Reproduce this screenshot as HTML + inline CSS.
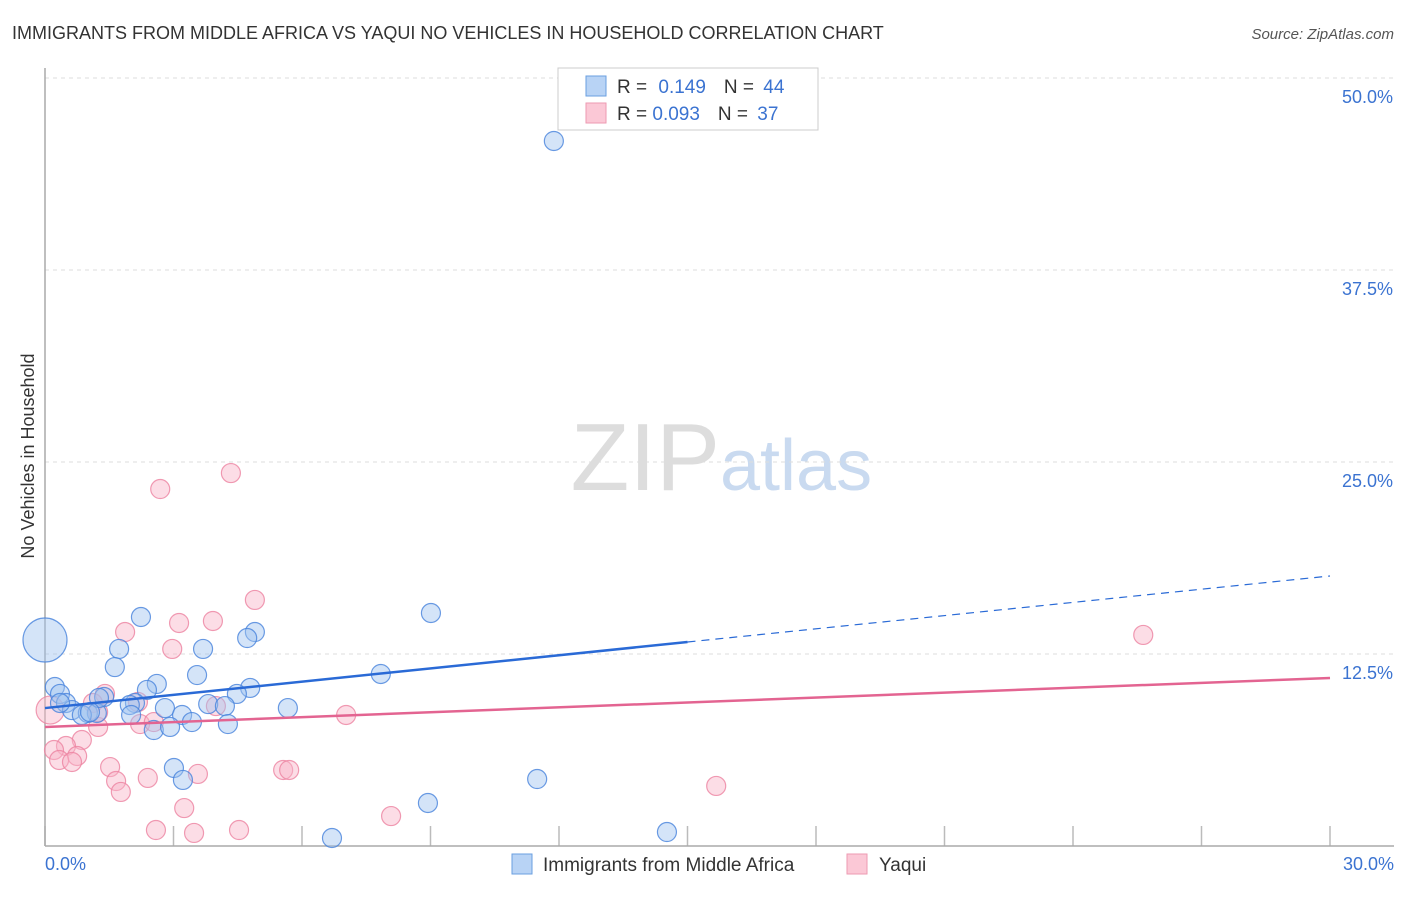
<!DOCTYPE html>
<html><head><meta charset="utf-8"><style>
body{margin:0;background:#fff;font-family:"Liberation Sans",sans-serif;}
svg text{font-family:"Liberation Sans",sans-serif;}
</style></head><body>
<svg id="c" width="1406" height="892">
<text x="12" y="39" font-size="18" fill="#333">IMMIGRANTS FROM MIDDLE AFRICA VS YAQUI NO VEHICLES IN HOUSEHOLD CORRELATION CHART</text>
<text x="1394" y="39" font-size="15" fill="#555" font-style="italic" text-anchor="end">Source: ZipAtlas.com</text>
<text transform="translate(34,456) rotate(-90)" font-size="18" fill="#333" text-anchor="middle">No Vehicles in Household</text>
<text x="720" y="490" font-size="96" fill="#ddd" text-anchor="end" font-family="Liberation Serif">ZIP</text>
<text x="720" y="490" font-size="72" fill="#c9daf0">atlas</text>
<g id="grid"></g><g id="marks"></g>
<g>
<rect x="558" y="68" width="260" height="62" fill="#fff" stroke="#ccc"/>
<rect x="586" y="76" width="20" height="20" fill="#b8d3f5" stroke="#6a9fe0"/>
<rect x="586" y="103" width="20" height="20" fill="#fbc8d6" stroke="#ee9ab2"/>
<text x="617" y="93" font-size="19" fill="#333">R = <tspan fill="#3b73d1" dx="6">0.149</tspan><tspan dx="18" fill="#333">N = </tspan><tspan fill="#3b73d1" dx="4">44</tspan></text>
<text x="617" y="120" font-size="19" fill="#333">R = <tspan fill="#3b73d1">0.093</tspan><tspan dx="18" fill="#333">N = </tspan><tspan fill="#3b73d1" dx="4">37</tspan></text>
</g>
<g>
<rect x="512" y="854" width="20" height="20" fill="#b8d3f5" stroke="#6a9fe0"/>
<text x="543" y="871" font-size="19" fill="#333">Immigrants from Middle Africa</text>
<rect x="847" y="854" width="20" height="20" fill="#fbc8d6" stroke="#ee9ab2"/>
<text x="879" y="871" font-size="19" fill="#333">Yaqui</text>
</g>
</svg>
<script>
const yTicks=[12.5,25,37.5,50];
const yTickLabels=["12.5%","25.0%","37.5%","50.0%"];
const xTickLabels=["0.0%","30.0%"];
const blueX=[0,11.88,9.01,2.24,4.90,4.72,1.73,3.69,1.63,3.55,7.84,2.61,0.23,2.38,4.79,4.48,0.35,1.38,2.10,0.49,1.98,3.81,4.20,5.67,2.80,0.63,1.00,1.21,0.86,2.01,3.20,3.43,4.27,2.54,2.92,3.01,3.22,11.49,8.94,6.70,14.52,1.26,1.05,0.35];
const blueY=[13.41,45.9,15.17,14.91,13.93,13.54,12.83,12.83,11.65,11.13,11.20,10.55,10.35,10.16,10.29,9.90,9.90,9.70,9.31,9.31,9.18,9.24,9.11,8.98,8.98,8.85,8.66,8.66,8.53,8.53,8.53,8.07,7.94,7.55,7.75,5.08,4.30,4.36,2.80,0.52,0.91,9.64,8.72,9.31];
const pinkX=[2.69,4.34,4.90,1.87,3.92,3.13,2.97,25.64,0.12,1.40,1.12,2.17,3.99,7.03,2.22,1.24,0.86,0.49,0.21,0.75,0.33,0.63,1.52,1.66,2.40,3.57,5.56,5.70,1.77,3.25,15.67,2.59,3.48,4.53,8.08,1.24,2.54];
const pinkY=[23.24,24.28,16.02,13.93,14.65,14.52,12.83,13.74,8.85,9.90,9.31,9.38,9.11,8.53,7.94,7.75,6.90,6.51,6.25,5.86,5.60,5.47,5.14,4.23,4.43,4.69,4.95,4.95,3.52,2.47,3.91,1.04,0.85,1.04,1.95,8.72,8.07];
const blueTrend=[8.98,17.58];
const pinkTrend=[7.75,10.94];
const blueSolidEnd=15;
const X=v=>45+v*(1285/30), Y=v=>846-v*(768/50);
const NS="http://www.w3.org/2000/svg";
function mk(t,a,p){const e=document.createElementNS(NS,t);for(const k in a)e.setAttribute(k,a[k]);p.appendChild(e);return e;}
const g=document.getElementById('grid'), m=document.getElementById('marks');
yTicks.forEach((t,i)=>{
 const l=mk('line',{x1:45,x2:1394,y1:Y(t),y2:Y(t),stroke:'#ddd','stroke-dasharray':'4,4'},g);
 
 
 const tx=mk('text',{x:1393,y:Y(t)+25,'font-size':18,fill:'#3b73d1','text-anchor':'end'},g);
 tx.textContent=yTickLabels[i];
 
 
});
for(let i=0;i<=10;i++){
 const x=X(i*3);
 const l=mk('line',{x1:x,x2:x,y1:826,y2:846,stroke:'#bbb','stroke-width':1.5},g);
 
 
}
let a=mk('line',{x1:45,x2:45,y1:68,y2:846,stroke:'#aaa','stroke-width':1.5},g);


a=mk('line',{x1:45,x2:1394,y1:846,y2:846,stroke:'#aaa','stroke-width':1.5},g);


let tx=mk('text',{x:45,y:870,'font-size':18,fill:'#3b73d1'},g);tx.textContent=xTickLabels[0];


tx=mk('text',{x:1394,y:870,'font-size':18,fill:'#3b73d1','text-anchor':'end'},g);tx.textContent=xTickLabels[1];


pinkX.forEach((v,i)=>{
 const c=mk('circle',{cx:X(v),cy:Y(pinkY[i]),r:i==8?14:9.5,fill:'rgba(248,180,200,0.45)',stroke:'rgba(236,130,160,0.8)','stroke-width':1.2},m);
 
 
});
blueX.forEach((v,i)=>{
 const c=mk('circle',{cx:X(v),cy:Y(blueY[i]),r:i==0?22:9.5,fill:'rgba(160,196,240,0.45)',stroke:'rgba(70,130,220,0.8)','stroke-width':1.2},m);
 
 
});
const bAt=x=>blueTrend[0]+(blueTrend[1]-blueTrend[0])*x/30;
let t=mk('line',{x1:X(0),y1:Y(bAt(0)),x2:X(blueSolidEnd),y2:Y(bAt(blueSolidEnd)),stroke:'#2a6ad6','stroke-width':2.5},m);


t=mk('line',{x1:X(blueSolidEnd),y1:Y(bAt(blueSolidEnd)),x2:X(30),y2:Y(bAt(30)),stroke:'#2a6ad6','stroke-width':1.2,'stroke-dasharray':'8,6'},m);


t=mk('line',{x1:X(0),y1:Y(pinkTrend[0]),x2:X(30),y2:Y(pinkTrend[1]),stroke:'#e36491','stroke-width':2.5},m);


</script>
</body></html>
